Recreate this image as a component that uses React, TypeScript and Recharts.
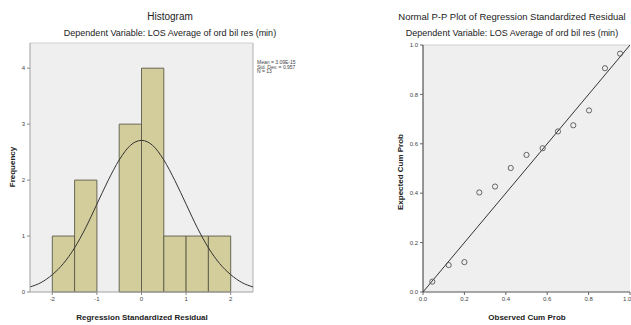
import React from "react";
import {
  ComposedChart,
  ScatterChart,
  Scatter,
  Line,
  XAxis,
  YAxis,
  CartesianGrid,
  ReferenceArea,
  ReferenceLine,
} from "recharts";

// Histogram bins (start of each 0.5-wide bin) and counts
const binStarts = [-2, -1.5, -1, -0.5, 0, 0.5, 1, 1.5];
const binCounts = [1, 2, 0, 3, 4, 1, 1, 1];
const binWidth = 0.5;

// Normal curve
const curveX = [-2.5, -2.25, -2, -1.75, -1.5, -1.25, -1, -0.75, -0.5, -0.25, 0, 0.25, 0.5, 0.75, 1, 1.25, 1.5, 1.75, 2, 2.25, 2.5];
const curveY = [0.09, 0.17, 0.31, 0.51, 0.79, 1.15, 1.57, 1.99, 2.36, 2.62, 2.71, 2.62, 2.36, 1.99, 1.57, 1.15, 0.79, 0.51, 0.31, 0.17, 0.09];

const histXTicks = [-2, -1, 0, 1, 2];
const histYTicks = [0, 1, 2, 3, 4];

// P-P plot points
const observedCum = [0.045, 0.124, 0.2, 0.272, 0.348, 0.424, 0.5, 0.578, 0.652, 0.726, 0.802, 0.879, 0.952];
const expectedCum = [0.042, 0.109, 0.121, 0.403, 0.427, 0.502, 0.555, 0.582, 0.65, 0.675, 0.735, 0.906, 0.965];
const ppTicks = [0, 0.2, 0.4, 0.6, 0.8, 1.0];

const statsLines = ["Mean = 3.09E-15", "Std. Dev. = 0.957", "N = 13"];

const curveData = curveX.map((x, i) => ({ x, y: curveY[i] }));
const ppData = observedCum.map((x, i) => ({ x, y: expectedCum[i] }));

const FONT = "'Liberation Sans', Arial, sans-serif";
const tickStyle = { fontSize: 6, fill: "#444", fontFamily: FONT };

const OpenCircle = (props: any) => (
  <circle cx={props.cx} cy={props.cy} r={2.6} fill="none" stroke="#555" strokeWidth={0.9} />
);

export default function App() {
  return (
    <div
      style={{
        position: "absolute",
        left: 0,
        top: 0,
        width: 631,
        height: 325,
        background: "#fff",
        overflow: "hidden",
      }}
    >
      <div style={{ position: "absolute", left: 0, top: 0 }}>
        <ComposedChart
          width={320}
          height={325}
          data={curveData}
          margin={{ top: 43, right: 67, bottom: 13, left: 10 }}
        >
          <CartesianGrid fill="#efefef" stroke="none" />
          <XAxis
            dataKey="x"
            type="number"
            domain={[-2.5, 2.5]}
            ticks={histXTicks}
            height={20}
            tickSize={3}
            tick={tickStyle}
            axisLine={{ stroke: "#a0a0a0" }}
            tickLine={{ stroke: "#888" }}
            allowDataOverflow
          />
          <YAxis
            type="number"
            domain={[0, 4.45]}
            ticks={histYTicks}
            width={20}
            tickSize={3}
            tick={tickStyle}
            axisLine={{ stroke: "#a0a0a0" }}
            tickLine={{ stroke: "#888" }}
            allowDataOverflow
          />
          {binStarts.map((s, i) =>
            binCounts[i] > 0 ? (
              <ReferenceArea
                key={i}
                x1={s}
                x2={s + binWidth}
                y1={0}
                y2={binCounts[i]}
                fill="#d3cd9b"
                fillOpacity={1}
                stroke="#5c5a48"
                strokeWidth={0.9}
                strokeOpacity={1}
              />
            ) : null
          )}
          <ReferenceLine x={2.5} stroke="#b0b0b0" />
          <ReferenceLine y={4.45} stroke="#d0d0d0" />
          <Line
            dataKey="y"
            type="monotone"
            dot={false}
            stroke="#333"
            strokeWidth={1}
            isAnimationActive={false}
          />
        </ComposedChart>
      </div>

      <div style={{ position: "absolute", left: 320, top: 0 }}>
        <ScatterChart
          width={311}
          height={325}
          margin={{ top: 45, right: 1, bottom: 13, left: 83 }}
        >
          <CartesianGrid fill="#efefef" stroke="none" />
          <XAxis
            dataKey="x"
            type="number"
            domain={[0, 1]}
            ticks={ppTicks}
            tickFormatter={(v: number) => v.toFixed(1)}
            height={20}
            tickSize={3}
            tick={tickStyle}
            axisLine={{ stroke: "#555" }}
            tickLine={{ stroke: "#666" }}
          />
          <YAxis
            dataKey="y"
            type="number"
            domain={[0, 1]}
            ticks={ppTicks}
            tickFormatter={(v: number) => v.toFixed(1)}
            width={20}
            tickSize={3}
            tick={tickStyle}
            axisLine={{ stroke: "#333" }}
            tickLine={{ stroke: "#666" }}
          />
          <ReferenceLine y={1} stroke="#d0d0d0" />
          <ReferenceLine
            segment={[
              { x: 0, y: 0 },
              { x: 1, y: 1 },
            ]}
            stroke="#333"
            strokeWidth={1}
          />
          <Scatter data={ppData} shape={OpenCircle} isAnimationActive={false} />
        </ScatterChart>
      </div>

      <svg
        width={631}
        height={325}
        style={{ position: "absolute", left: 0, top: 0, pointerEvents: "none" }}
        fontFamily={FONT}
      >
        <text x={170} y={19.5} fontSize={10} textAnchor="middle" fill="#222">
          Histogram
        </text>
        <text x={170} y={36} fontSize={9} textAnchor="middle" fill="#222">
          Dependent Variable: LOS Average of ord bil res (min)
        </text>
        {statsLines.map((t, i) => (
          <text key={i} x={257} y={64 + i * 4.5} fontSize={5} fill="#444">
            {t}
          </text>
        ))}
        <text
          x={15}
          y={167}
          fontSize={8}
          fontWeight="bold"
          textAnchor="middle"
          fill="#222"
          transform="rotate(-90, 15, 167)"
        >
          Frequency
        </text>
        <text x={142} y={320} fontSize={8} fontWeight="bold" textAnchor="middle" fill="#222">
          Regression Standardized Residual
        </text>

        <text x={512} y={19.5} fontSize={9.5} textAnchor="middle" fill="#222">
          Normal P-P Plot of Regression Standardized Residual
        </text>
        <text x={512} y={36} fontSize={9} textAnchor="middle" fill="#222">
          Dependent Variable: LOS Average of ord bil res (min)
        </text>
        <text
          x={403}
          y={172}
          fontSize={8}
          fontWeight="bold"
          textAnchor="middle"
          fill="#222"
          transform="rotate(-90, 403, 172)"
        >
          Expected Cum Prob
        </text>
        <text x={527} y={320} fontSize={8} fontWeight="bold" textAnchor="middle" fill="#222">
          Observed Cum Prob
        </text>
      </svg>
    </div>
  );
}
